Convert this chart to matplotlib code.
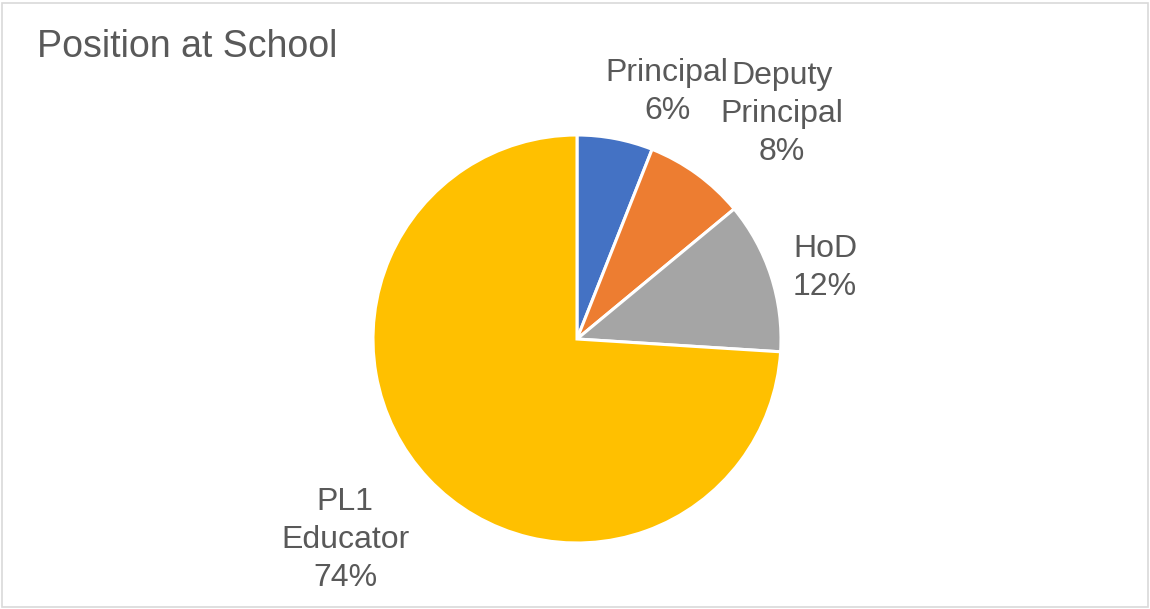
import matplotlib.pyplot as plt
from matplotlib.patches import Rectangle

plt.rcParams['font.family'] = ['Liberation Sans', 'DejaVu Sans']

# Staff position shares
positions = ['Principal', 'Deputy\nPrincipal', 'HoD', 'PL1\nEducator']
shares = [6, 8, 12, 74]
colors = ['#4472C4', '#ED7D31', '#A5A5A5', '#FFC000']

# label anchor points (pixel coords on the canvas)
label_px = [(667, 92), (782, 114), (825, 268), (345, 540)]

W, H = 1150, 609
cx, cy, r = 577, 339, 204

fig = plt.figure(figsize=(W / 100, H / 100), dpi=100)
fig.patch.set_facecolor('white')

ax = fig.add_axes([(cx - r) / W, (H - cy - r) / H, 2 * r / W, 2 * r / H])
ax.pie(shares, colors=colors, startangle=90, counterclock=False, radius=1,
       wedgeprops=dict(edgecolor='white', linewidth=2.2))
ax.set_xlim(-1, 1)
ax.set_ylim(-1, 1)
ax.set_aspect('equal')
ax.axis('off')

for name, val, (px, py) in zip(positions, shares, label_px):
    fig.text(px / W, 1 - py / H, f'{name}\n{val}%', ha='center', va='center',
             fontsize=23, color='#595959', linespacing=1.33)

fig.text(37 / W, 1 - 47 / H, 'Position at School', ha='left', va='center',
         fontsize=27, color='#595959')

# thin frame around the chart area
fig.patches.append(Rectangle((1.5 / W, 2.5 / H), (W - 4) / W, (H - 5) / H,
                             transform=fig.transFigure, fill=False,
                             edgecolor='#D9D9D9', linewidth=1.2))

fig.savefig('out.png', dpi=100)
